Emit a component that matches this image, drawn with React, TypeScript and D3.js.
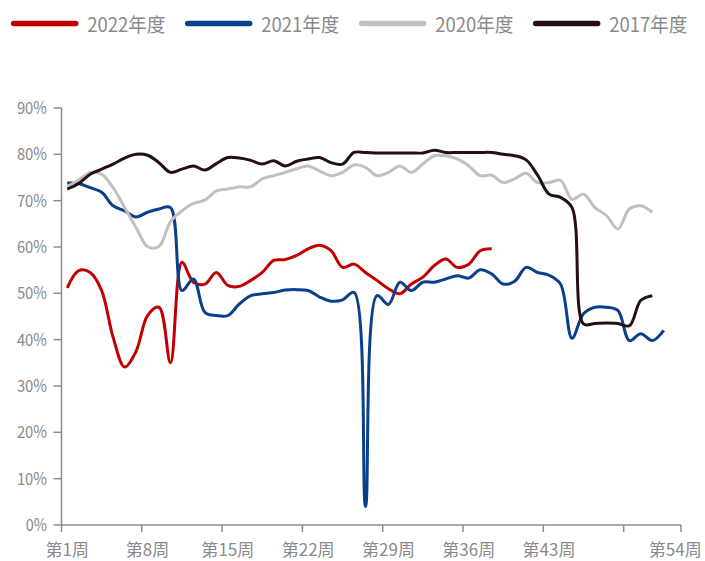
import { useEffect, useRef } from 'react';
import * as d3 from 'd3';

// weekly utilisation rate (%), starting at week 1
const rate2022 = [
  51.2, 54.9, 54.5, 50.6, 40.5, 34.1, 37.5, 45.2, 47.0, 35.0,
  56.7, 52.4, 52.0, 54.5, 51.7, 51.5, 52.8, 54.5, 57.1, 57.3,
  58.2, 59.6, 60.4, 59.2, 55.6, 56.3, 54.5, 52.8, 51.0, 49.9,
  52.0, 53.5, 56.0, 57.4, 55.6, 56.3, 59.2, 59.6,
];
const rate2021 = [
  73.8, 73.7, 72.8, 71.8, 68.9, 67.8, 66.5, 67.5, 68.2, 68.5,
  50.6, 53.1, 45.9, 45.2, 45.2, 47.7, 49.5, 49.9, 50.2, 50.7,
  50.8, 50.6, 49.2, 48.3, 48.6, 50.2, 4.0, 49.5, 47.6, 52.4,
  50.6, 52.4, 52.4, 53.1, 53.8, 53.3, 55.1, 54.2, 52.0, 52.6,
  55.6, 54.5, 53.9, 52.0, 40.3, 45.6, 47.0, 47.0, 46.3, 39.8,
  41.3, 39.8, 42.0,
];
const rate2020 = [
  73.0, 74.5, 76.1, 75.7, 72.8, 68.5, 64.2, 60.1, 60.1, 65.5,
  67.8, 69.4, 70.1, 72.1, 72.5, 73.0, 73.0, 74.7, 75.4, 76.1,
  76.9, 77.5, 76.4, 75.4, 76.1, 77.7, 77.2, 75.4, 76.1, 77.5,
  76.1, 77.9, 79.7, 79.7, 79.0, 77.5, 75.4, 75.5, 73.9, 74.7,
  75.9, 73.9, 73.9, 74.4, 70.3, 71.4, 68.5, 66.8, 63.9, 68.2,
  68.9, 67.5,
];
const rate2017 = [
  72.5, 73.7, 75.7, 76.8, 77.9, 79.2, 80.0, 79.8, 78.2, 76.1,
  76.8, 77.5, 76.6, 78.0, 79.3, 79.2, 78.7, 77.9, 78.6, 77.5,
  78.5, 79.0, 79.3, 78.2, 77.9, 80.4, 80.4, 80.3, 80.3, 80.3,
  80.3, 80.3, 80.9, 80.4, 80.4, 80.4, 80.4, 80.4, 80.0, 79.7,
  78.8, 75.5, 71.4, 70.7, 68.5, 43.4, 43.5, 43.6, 43.5, 43.0,
  48.5, 49.5,
];

const seriesNames = ['2022年度', '2021年度', '2020年度', '2017年度'];
const seriesColors = ['#C00000', '#0A3F8C', '#C0C0C0', '#241010'];
const seriesValues = [rate2022, rate2021, rate2020, rate2017];

const weeks = d3.range(1, 55);
const tickWeeks = [1, 8, 15, 22, 29, 36, 43, 50];
const labelWeeks = [1, 8, 15, 22, 29, 36, 43, 54];
const yTicks = d3.range(0, 91, 10);

const W = 705;
const H = 561;
const FONT = "'Noto Sans CJK SC', sans-serif";
const TEXT_GREY = '#8a8a8a';
const AXIS_GREY = '#8c8c8c';

// the source font is a narrow one; squeeze the glyphs to its widths
function narrowWidth(text: string, digit: number, cjk: number, pct: number) {
  let w = 0;
  for (const ch of text) {
    if (/[0-9]/.test(ch)) w += digit;
    else if (ch === '%') w += pct;
    else w += cjk;
  }
  return w;
}

export default function App() {
  const svgRef = useRef<SVGSVGElement>(null);

  useEffect(() => {
    if (!svgRef.current) return;
    const svg = d3.select(svgRef.current);
    svg.selectAll('*').remove();

    const left = 61.5;
    const right = 681;
    const top = 108;
    const bottom = 525;

    const x = d3.scaleBand<number>().domain(weeks).range([left, right]).padding(0);
    const y = d3.scaleLinear().domain([0, 90]).range([bottom, top]);
    const cx = (w: number) => (x(w) ?? 0) + x.bandwidth() / 2;

    // legend
    const legend = svg.append('g');
    seriesNames.forEach((name, i) => {
      const x0 = 11.7 + i * 174;
      legend
        .append('line')
        .attr('x1', x0 + 2)
        .attr('x2', x0 + 64)
        .attr('y1', 23.5)
        .attr('y2', 23.5)
        .attr('stroke', seriesColors[i])
        .attr('stroke-width', 5.5)
        .attr('stroke-linecap', 'round');
      legend
        .append('text')
        .attr('x', x0 + 75.5)
        .attr('y', 31.5)
        .attr('fill', TEXT_GREY)
        .attr('font-size', 19.5)
        .attr('font-family', FONT)
        .attr('textLength', narrowWidth(name, 9.8, 19.5, 0))
        .attr('lengthAdjust', 'spacingAndGlyphs')
        .text(name);
    });

    // y axis
    const yAxis = svg.append('g');
    yAxis
      .append('line')
      .attr('x1', left)
      .attr('x2', left)
      .attr('y1', top)
      .attr('y2', bottom)
      .attr('stroke', AXIS_GREY)
      .attr('stroke-width', 1.5);
    yAxis
      .selectAll('line.tick')
      .data(yTicks)
      .join('line')
      .attr('class', 'tick')
      .attr('x1', left - 8)
      .attr('x2', left)
      .attr('y1', (d) => y(d))
      .attr('y2', (d) => y(d))
      .attr('stroke', AXIS_GREY)
      .attr('stroke-width', 1.5);
    yAxis
      .selectAll('text')
      .data(yTicks)
      .join('text')
      .attr('x', 47)
      .attr('y', (d) => y(d) + 6)
      .attr('text-anchor', 'end')
      .attr('fill', TEXT_GREY)
      .attr('font-size', 17)
      .attr('font-family', FONT)
      .attr('textLength', (d) => narrowWidth(`${d}%`, 8.8, 0, 12.5))
      .attr('lengthAdjust', 'spacingAndGlyphs')
      .text((d) => `${d}%`);

    // x axis
    const xAxis = svg.append('g');
    xAxis
      .append('line')
      .attr('x1', left)
      .attr('x2', right)
      .attr('y1', bottom)
      .attr('y2', bottom)
      .attr('stroke', AXIS_GREY)
      .attr('stroke-width', 1.5);
    const tickXs = [...tickWeeks.map((w) => x(w) ?? 0), right];
    xAxis
      .selectAll('line.tick')
      .data(tickXs)
      .join('line')
      .attr('class', 'tick')
      .attr('x1', (d) => d)
      .attr('x2', (d) => d)
      .attr('y1', bottom)
      .attr('y2', bottom + 7)
      .attr('stroke', AXIS_GREY)
      .attr('stroke-width', 1.5);
    xAxis
      .selectAll('text')
      .data(labelWeeks)
      .join('text')
      .attr('x', (w) => cx(w))
      .attr('y', 556)
      .attr('text-anchor', 'middle')
      .attr('fill', TEXT_GREY)
      .attr('font-size', 17)
      .attr('font-family', FONT)
      .attr('textLength', (w) => narrowWidth(`第${w}周`, 9.5, 17, 0))
      .attr('lengthAdjust', 'spacingAndGlyphs')
      .text((w) => `第${w}周`);

    // series lines
    const line = d3
      .line<number>()
      .x((_, i) => cx(i + 1))
      .y((v) => y(v))
      .curve(d3.curveCatmullRom.alpha(0.5));

    seriesValues.forEach((values, i) => {
      svg
        .append('path')
        .datum(values)
        .attr('fill', 'none')
        .attr('stroke', seriesColors[i])
        .attr('stroke-width', 3)
        .attr('stroke-linejoin', 'round')
        .attr('d', line);
    });
  }, []);

  return (
    <svg
      ref={svgRef}
      width={W}
      height={H}
      viewBox={`0 0 ${W} ${H}`}
      style={{ position: 'absolute', left: 0, top: 0, background: '#fff' }}
    />
  );
}
